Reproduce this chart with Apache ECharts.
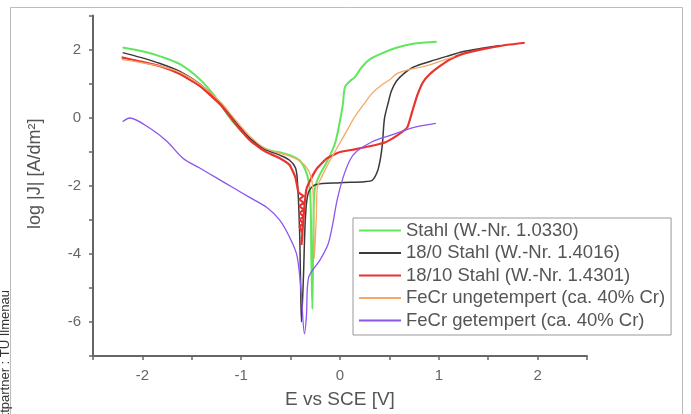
<!DOCTYPE html>
<html>
<head>
<meta charset="utf-8">
<title>Stromdichte-Potential-Kurven</title>
<script src="https://cdn.jsdelivr.net/npm/echarts@6/dist/echarts.min.js"></script>
<style>
  html, body { margin: 0; padding: 0; background: #fff; }
  #main { width: 691px; height: 414px; }
</style>
</head>
<body>
<div id="main"></div>
<script>
// Messkurven [E vs SCE in V, log |J| in A/dm²]
var stahl10330 = [
  [-2.20, 2.06], [-1.99, 1.94], [-1.82, 1.80], [-1.62, 1.57], [-1.42, 1.13], [-1.27, 0.64],
  [-1.08, -0.14], [-0.91, -0.64], [-0.74, -0.93], [-0.54, -1.07], [-0.41, -1.25], [-0.33, -1.71],
  [-0.30, -2.35], [-0.29, -4.09], [-0.28, -5.62], [-0.27, -3.51], [-0.26, -2.20], [-0.22, -1.77],
  [-0.13, -1.28], [-0.05, -0.75], [0.00, -0.09], [0.03, 0.41], [0.05, 0.90], [0.10, 1.07],
  [0.15, 1.19], [0.22, 1.48], [0.30, 1.71], [0.40, 1.86], [0.58, 2.06], [0.74, 2.17], [0.98, 2.23]
];
var stahl14016 = [
  [-2.20, 1.91], [-2.02, 1.77], [-1.82, 1.59], [-1.62, 1.36], [-1.42, 0.99], [-1.21, 0.43],
  [-1.06, -0.12], [-0.91, -0.61], [-0.76, -0.93], [-0.61, -1.10], [-0.51, -1.25], [-0.45, -1.48],
  [-0.43, -1.91], [-0.41, -3.22], [-0.40, -4.67], [-0.39, -6.00], [-0.37, -4.67], [-0.35, -2.93],
  [-0.32, -2.20], [-0.25, -1.97], [0.00, -1.91], [0.25, -1.88], [0.33, -1.83], [0.38, -1.57],
  [0.41, -1.19], [0.43, -0.75], [0.45, -0.03], [0.49, 0.46], [0.52, 0.78], [0.57, 1.07],
  [0.64, 1.28], [0.74, 1.48], [0.91, 1.65], [1.08, 1.80], [1.25, 1.94], [1.42, 2.03], [1.62, 2.12]
];
var stahl14301 = [
  [-2.21, 1.77], [-2.02, 1.65], [-1.82, 1.51], [-1.62, 1.28], [-1.42, 0.93], [-1.21, 0.38],
  [-1.06, -0.17], [-0.91, -0.67], [-0.76, -0.99], [-0.61, -1.19], [-0.51, -1.39], [-0.45, -1.77],
  [-0.42, -2.20], [-0.37, -2.30], [-0.41, -2.40], [-0.37, -2.50], [-0.41, -2.60], [-0.37, -2.70],
  [-0.41, -2.80], [-0.37, -2.90], [-0.41, -3.00], [-0.37, -3.10], [-0.41, -3.20], [-0.38, -3.40],
  [-0.39, -3.74], [-0.36, -2.60], [-0.34, -2.10], [-0.30, -1.83], [-0.23, -1.48], [-0.13, -1.19],
  [0.00, -1.01], [0.15, -0.93], [0.30, -0.84], [0.46, -0.72], [0.58, -0.52], [0.68, -0.29],
  [0.73, 0.17], [0.78, 0.64], [0.84, 1.04], [0.91, 1.28], [1.01, 1.51], [1.11, 1.71],
  [1.25, 1.88], [1.42, 2.00], [1.65, 2.12], [1.87, 2.20]
];
var feCrUngetempert = [
  [-2.21, 1.71], [-2.02, 1.62], [-1.82, 1.51], [-1.62, 1.33], [-1.42, 0.99], [-1.21, 0.46],
  [-1.06, -0.06], [-0.91, -0.55], [-0.76, -0.90], [-0.61, -1.04], [-0.46, -1.19], [-0.35, -1.42],
  [-0.29, -1.77], [-0.27, -2.35], [-0.26, -4.14], [-0.24, -2.93], [-0.23, -2.06], [-0.18, -1.71],
  [-0.10, -1.25], [-0.02, -0.84], [0.07, -0.38], [0.15, 0.03], [0.23, 0.35], [0.32, 0.70],
  [0.41, 0.93], [0.51, 1.13], [0.58, 1.30], [0.71, 1.42], [0.86, 1.51], [1.01, 1.65], [1.16, 1.80]
];
var feCrGetempert = [
  [-2.20, -0.12], [-2.13, -0.01], [-1.92, -0.32], [-1.75, -0.70], [-1.59, -1.19], [-1.42, -1.48],
  [-1.25, -1.77], [-1.08, -2.06], [-0.91, -2.35], [-0.74, -2.64], [-0.61, -3.01], [-0.51, -3.51],
  [-0.44, -4.00], [-0.41, -4.58], [-0.39, -5.25], [-0.36, -6.35], [-0.34, -5.83], [-0.32, -4.72],
  [-0.20, -4.17], [-0.12, -3.71], [-0.07, -3.07], [-0.03, -2.43], [0.03, -1.77], [0.10, -1.25],
  [0.17, -0.99], [0.33, -0.70], [0.51, -0.52], [0.74, -0.29], [0.97, -0.17]
];

var seriesNames = [
  'Stahl (W.-Nr. 1.0330)',
  '18/0 Stahl (W.-Nr. 1.4016)',
  '18/10 Stahl (W.-Nr. 1.4301)',
  'FeCr ungetempert (ca. 40% Cr)',
  'FeCr getempert (ca. 40% Cr)'
];
var seriesData = [stahl10330, stahl14016, stahl14301, feCrUngetempert, feCrGetempert];
var seriesColors = ['#62e65e', '#3a3a3a', '#e8332f', '#f6a865', '#8c55f0'];
var seriesWidths = [2, 1.5, 2.2, 1.3, 1.3];

var font = 'Liberation Sans, Arial, sans-serif';
var myChart = echarts.init(document.getElementById('main'));

var series = [];
for (var i = 0; i < seriesNames.length; i++) {
  series.push({
    name: seriesNames[i],
    type: 'line',
    data: seriesData[i],
    symbol: 'none',
    smooth: i === 2 ? 0.15 : 0.3,
    lineStyle: { color: seriesColors[i], width: seriesWidths[i] },
    itemStyle: { color: seriesColors[i] }
  });
}

var option = {
  animation: false,
  backgroundColor: '#fff',
  grid: { left: 93, right: 104, top: 15.5, bottom: 53.5 },
  xAxis: {
    type: 'value',
    min: -2.5,
    max: 2.5,
    interval: 0.5,
    name: 'E vs SCE [V]',
    nameLocation: 'middle',
    nameGap: 34,
    nameTextStyle: { fontFamily: font, fontSize: 19, color: '#555' },
    axisLine: { onZero: false, lineStyle: { color: '#666', width: 2 } },
    axisTick: { length: 4, lineStyle: { color: '#666', width: 1.5 } },
    axisLabel: {
      margin: 12,
      fontFamily: font,
      fontSize: 15,
      color: '#666',
      formatter: function (v) { return v % 1 === 0 ? String(v) : ''; }
    },
    splitLine: { show: false }
  },
  yAxis: {
    type: 'value',
    min: -7,
    max: 3,
    interval: 1,
    name: 'log |J| [A/dm²]',
    nameLocation: 'middle',
    nameGap: 49,
    nameTextStyle: { fontFamily: font, fontSize: 18, color: '#555', padding: [0, 0, 0, 24] },
    axisLine: { show: true, onZero: false, lineStyle: { color: '#666', width: 2 } },
    axisTick: { show: true, length: 4, lineStyle: { color: '#666', width: 1.5 } },
    axisLabel: {
      margin: 12,
      fontFamily: font,
      fontSize: 15,
      color: '#666',
      formatter: function (v) { return v % 2 === 0 ? String(v) : ''; }
    },
    splitLine: { show: false }
  },
  legend: {
    orient: 'vertical',
    left: 353,
    top: 218,
    padding: [3, 6, 5, 6],
    icon: 'rect',
    itemWidth: 42,
    itemHeight: 2,
    itemGap: 3.5,
    borderColor: '#999',
    borderWidth: 1,
    backgroundColor: '#fff',
    data: seriesNames,
    textStyle: { fontFamily: font, fontSize: 18.5, lineHeight: 18, color: '#555' }
  },
  graphic: [
    {
      type: 'rect',
      shape: { x: 10.5, y: 7.5, width: 672, height: 420 },
      style: { fill: 'none', stroke: '#bbb', lineWidth: 1 },
      silent: true
    },
    {
      type: 'text',
      x: 5,
      y: 290,
      rotation: Math.PI / 2,
      style: {
        text: 'Projektpartner : TU Ilmenau',
        fontFamily: font,
        fontSize: 13,
        fill: '#333',
        align: 'right',
        verticalAlign: 'middle'
      },
      silent: true
    }
  ],
  series: series
};

myChart.setOption(option);
</script>
</body>
</html>
